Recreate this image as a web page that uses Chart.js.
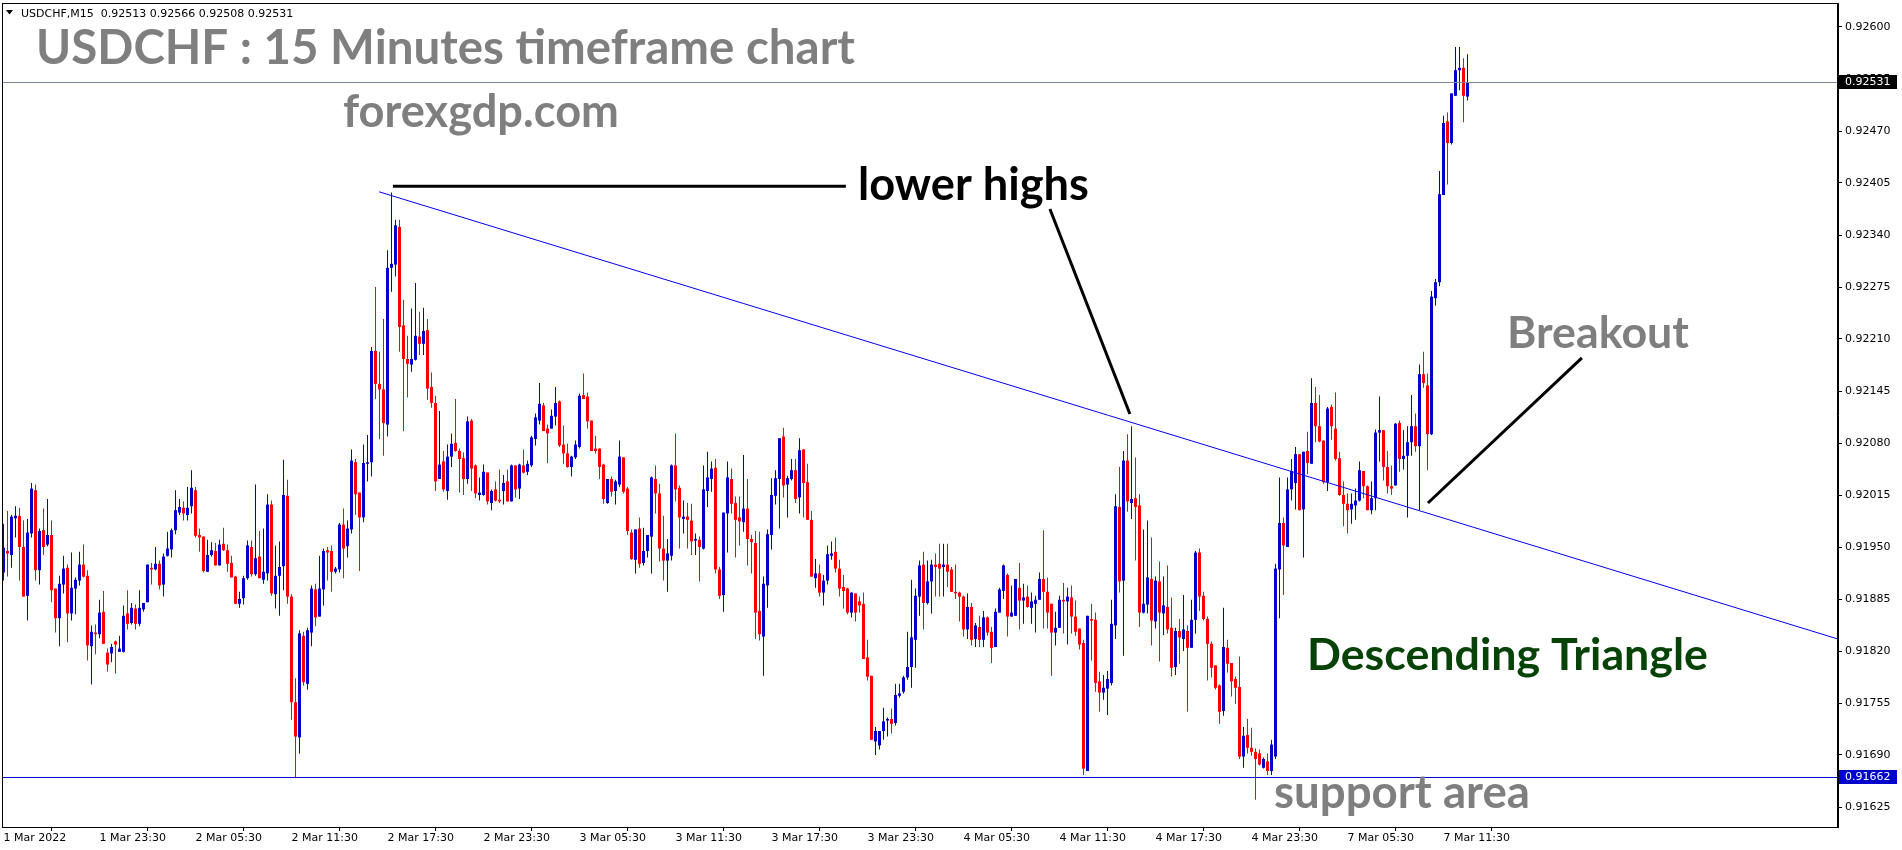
<!DOCTYPE html>
<html>
<head>
<meta charset="utf-8">
<script src="https://cdn.jsdelivr.net/npm/chart.js@4.4.1/dist/chart.umd.min.js"></script>
<style>
html,body{margin:0;padding:0;background:#fff;overflow:hidden}
#wrap{width:1902px;height:850px;position:relative}
canvas{display:block}
</style>
</head>
<body>
<div id="wrap"><canvas id="c" width="1902" height="850"></canvas></div>
<script>
const symbol = 'USDCHF';
const timeframe = 'M15';

const opens = [
0.91918,0.91945,0.91940,0.91986,0.91989,0.91950,0.91889,0.91967,0.92021,0.91921,
0.91971,0.91953,0.91965,0.91898,0.91861,0.91903,0.91924,0.91867,0.91898,0.91908,
0.91928,0.91914,0.91826,0.91843,0.91841,0.91869,0.91818,0.91817,0.91832,0.91819,
0.91819,0.91867,0.91855,0.91873,0.91854,0.91872,0.91881,0.91924,0.91922,0.91929,
0.91903,0.91939,0.91947,0.91971,0.91993,0.91999,0.91990,0.92001,0.92021,0.91965,
0.91963,0.91919,0.91940,0.91945,0.91927,0.91954,0.91946,0.91930,0.91913,0.91879,
0.91886,0.91911,0.91950,0.91916,0.91938,0.91909,0.91917,0.92003,0.91891,0.91914,
0.91926,0.92014,0.91888,0.91756,0.91712,0.91839,0.91779,0.91843,0.91897,0.91863,
0.91897,0.91946,0.91945,0.91919,0.91922,0.91978,0.91951,0.91972,0.92056,0.92018,
0.91987,0.92054,0.92056,0.92195,0.92154,0.92147,0.92103,0.92299,0.92303,0.92350,
0.92227,0.92185,0.92178,0.92184,0.92213,0.92204,0.92221,0.92150,0.92130,0.92035,
0.92057,0.92020,0.92063,0.92080,0.92070,0.92061,0.92035,0.92108,0.92052,0.92015,
0.92015,0.92043,0.92005,0.92022,0.92009,0.92020,0.92032,0.92007,0.92052,0.92023,
0.92052,0.92044,0.92052,0.92085,0.92108,0.92127,0.92098,0.92098,0.92113,0.92132,
0.92078,0.92067,0.92050,0.92062,0.92075,0.92140,0.92138,0.92108,0.92073,0.92073,
0.92053,0.92005,0.92035,0.92020,0.92028,0.92062,0.92023,0.91968,0.91934,0.91973,
0.91930,0.91945,0.91963,0.92035,0.92017,0.91948,0.91933,0.91939,0.92052,0.92024,
0.91985,0.91988,0.91983,0.91958,0.91959,0.91948,0.92020,0.92035,0.92049,0.91922,
0.91890,0.91992,0.92035,0.92005,0.91987,0.91981,0.91998,0.91960,0.91955,0.91870,
0.91838,0.91902,0.91965,0.92014,0.92035,0.92088,0.92028,0.92035,0.92046,0.92012,
0.92072,0.92031,0.91984,0.91911,0.91917,0.91893,0.91908,0.91939,0.91944,0.91923,
0.91900,0.91898,0.91868,0.91892,0.91882,0.91879,0.91812,0.91789,0.91707,0.91702,
0.91720,0.91733,0.91735,0.91730,0.91764,0.91769,0.91787,0.91800,0.91834,0.91888,
0.91928,0.91880,0.91907,0.91928,0.91929,0.91925,0.91928,0.91922,0.91894,0.91893,
0.91888,0.91847,0.91875,0.91835,0.91850,0.91834,0.91862,0.91844,0.91825,0.91868,
0.91895,0.91915,0.91863,0.91864,0.91899,0.91883,0.91888,0.91874,0.91879,0.91884,
0.91910,0.91894,0.91879,0.91843,0.91849,0.91884,0.91882,0.91887,0.91863,0.91848,
0.91830,0.91670,0.91860,0.91859,0.91782,0.91768,0.91773,0.91780,0.91852,0.92000,
0.91908,0.92058,0.92005,0.92011,0.92002,0.91868,0.91878,0.91910,0.91857,0.91907,
0.91867,0.91875,0.91849,0.91800,0.91845,0.91835,0.91845,0.91824,0.91859,0.91943,
0.91889,0.91860,0.91829,0.91802,0.91777,0.91745,0.91824,0.91805,0.91785,0.91775,
0.91688,0.91715,0.91699,0.91694,0.91692,0.91674,0.91682,0.91670,0.91688,0.91922,
0.91980,0.91950,0.92022,0.92030,0.92066,0.91997,0.92070,0.92054,0.92130,0.92101,
0.92083,0.92031,0.92125,0.92098,0.92061,0.92015,0.92004,0.91997,0.92002,0.92008,
0.92045,0.92026,0.91996,0.92011,0.92093,0.92096,0.92050,0.92026,0.92027,0.92105,
0.92060,0.92064,0.92081,0.92101,0.92076,0.92166,0.92152,0.92091,0.92261,0.92281,
0.92390,0.92482,0.92455,0.92514,0.92546,0.92549,0.92513
];

const highs = [
0.91979,0.91995,0.91990,0.92001,0.91999,0.91983,0.91985,0.92030,0.92028,0.91973,
0.91998,0.92010,0.91983,0.91898,0.91914,0.91939,0.91928,0.91943,0.91912,0.91944,
0.91953,0.91921,0.91852,0.91853,0.91884,0.91895,0.91823,0.91829,0.91833,0.91839,
0.91877,0.91896,0.91880,0.91878,0.91896,0.91880,0.91928,0.91930,0.91950,0.91933,
0.91942,0.91969,0.91973,0.92021,0.92010,0.92007,0.92025,0.92046,0.92025,0.91973,
0.91963,0.91959,0.91956,0.91955,0.91959,0.91974,0.91953,0.91939,0.91914,0.91894,
0.91914,0.91958,0.91958,0.92028,0.91970,0.91973,0.92016,0.92008,0.91952,0.91957,
0.92059,0.92034,0.91891,0.91786,0.91846,0.91844,0.91849,0.91902,0.91904,0.91939,
0.91948,0.91950,0.91952,0.91925,0.91980,0.91998,0.91983,0.92072,0.92060,0.92018,
0.92078,0.92090,0.92200,0.92275,0.92194,0.92235,0.92321,0.92393,0.92359,0.92359,
0.92259,0.92214,0.92248,0.92280,0.92244,0.92249,0.92235,0.92168,0.92139,0.92120,
0.92070,0.92078,0.92092,0.92135,0.92073,0.92068,0.92113,0.92110,0.92053,0.92037,
0.92053,0.92043,0.92022,0.92032,0.92047,0.92040,0.92047,0.92053,0.92052,0.92054,
0.92072,0.92058,0.92089,0.92117,0.92155,0.92130,0.92103,0.92122,0.92150,0.92133,
0.92102,0.92079,0.92064,0.92083,0.92142,0.92167,0.92143,0.92108,0.92089,0.92073,
0.92054,0.92035,0.92038,0.92034,0.92083,0.92062,0.92025,0.91972,0.91972,0.91987,
0.91974,0.91965,0.92038,0.92052,0.92029,0.91989,0.91960,0.92053,0.92092,0.92027,
0.92008,0.92005,0.92004,0.91967,0.91963,0.92052,0.92069,0.92057,0.92060,0.91925,
0.91993,0.92057,0.92048,0.92013,0.92013,0.92065,0.92035,0.91965,0.91970,0.91969,
0.91913,0.91972,0.92036,0.92046,0.92086,0.92099,0.92039,0.92060,0.92060,0.92086,
0.92072,0.92054,0.91995,0.91935,0.91928,0.91915,0.91952,0.91957,0.91962,0.91934,
0.91915,0.91899,0.91893,0.91892,0.91888,0.91893,0.91834,0.91789,0.91725,0.91720,
0.91749,0.91737,0.91748,0.91779,0.91779,0.91789,0.91844,0.91909,0.91898,0.91933,
0.91944,0.91933,0.91934,0.91942,0.91954,0.91954,0.91954,0.91925,0.91928,0.91894,
0.91889,0.91892,0.91880,0.91855,0.91864,0.91870,0.91863,0.91850,0.91873,0.91899,
0.91928,0.91917,0.91902,0.91910,0.91930,0.91904,0.91902,0.91893,0.91889,0.91918,
0.91971,0.91912,0.91879,0.91869,0.91889,0.91905,0.91899,0.91902,0.91883,0.91848,
0.91834,0.91864,0.91879,0.91868,0.91794,0.91790,0.91795,0.91884,0.92016,0.92050,
0.92070,0.92091,0.92101,0.92062,0.92016,0.91972,0.91983,0.91962,0.91913,0.91932,
0.91913,0.91927,0.91887,0.91849,0.91860,0.91890,0.91852,0.91884,0.91945,0.91948,
0.91894,0.91863,0.91832,0.91802,0.91778,0.91874,0.91834,0.91805,0.91788,0.91813,
0.91725,0.91735,0.91724,0.91698,0.91697,0.91687,0.91692,0.91709,0.91929,0.92037,
0.91987,0.92037,0.92060,0.92075,0.92066,0.92069,0.92094,0.92161,0.92150,0.92140,
0.92083,0.92125,0.92128,0.92143,0.92069,0.92032,0.92017,0.92017,0.92023,0.92057,
0.92045,0.92027,0.92032,0.92097,0.92138,0.92096,0.92070,0.92052,0.92105,0.92108,
0.92096,0.92101,0.92140,0.92117,0.92178,0.92194,0.92167,0.92270,0.92285,0.92420,
0.92489,0.92493,0.92517,0.92575,0.92575,0.92561,0.92566
];

const lows = [
0.91908,0.91913,0.91924,0.91962,0.91908,0.91888,0.91858,0.91962,0.91908,0.91903,
0.91940,0.91951,0.91881,0.91843,0.91826,0.91892,0.91831,0.91858,0.91866,0.91902,
0.91912,0.91808,0.91778,0.91816,0.91836,0.91829,0.91794,0.91806,0.91792,0.91819,
0.91818,0.91847,0.91853,0.91847,0.91851,0.91869,0.91881,0.91903,0.91921,0.91897,
0.91888,0.91938,0.91937,0.91966,0.91990,0.91983,0.91983,0.91992,0.91962,0.91944,
0.91918,0.91919,0.91938,0.91927,0.91927,0.91945,0.91919,0.91912,0.91879,0.91874,
0.91878,0.91909,0.91913,0.91914,0.91911,0.91904,0.91908,0.91889,0.91873,0.91864,
0.91896,0.91879,0.91734,0.91661,0.91692,0.91777,0.91772,0.91826,0.91851,0.91863,
0.91877,0.91908,0.91894,0.91917,0.91918,0.91911,0.91937,0.91967,0.91990,0.91920,
0.91981,0.92032,0.92038,0.92135,0.92085,0.92064,0.92088,0.92269,0.92288,0.92194,
0.92095,0.92137,0.92169,0.92183,0.92190,0.92190,0.92134,0.92124,0.92020,0.92035,
0.92019,0.92009,0.92050,0.92069,0.92018,0.92015,0.92029,0.92020,0.92011,0.92008,
0.92014,0.92003,0.91996,0.92007,0.92005,0.92003,0.92007,0.92007,0.92012,0.92010,
0.92042,0.92040,0.92050,0.92077,0.92103,0.92095,0.92055,0.92098,0.92102,0.92075,
0.92054,0.92049,0.92038,0.92060,0.92073,0.92135,0.92098,0.92070,0.92067,0.92035,
0.92004,0.92004,0.92013,0.92003,0.92025,0.92017,0.91965,0.91934,0.91917,0.91924,
0.91927,0.91937,0.91917,0.91992,0.91932,0.91908,0.91894,0.91933,0.92007,0.91948,
0.91967,0.91948,0.91940,0.91940,0.91907,0.91947,0.92000,0.92019,0.91917,0.91885,
0.91869,0.91943,0.91992,0.91937,0.91952,0.91969,0.91927,0.91917,0.91835,0.91833,
0.91789,0.91874,0.91947,0.92003,0.91973,0.92012,0.91987,0.92033,0.92005,0.91992,
0.91987,0.91984,0.91913,0.91899,0.91888,0.91877,0.91903,0.91934,0.91918,0.91888,
0.91873,0.91866,0.91862,0.91857,0.91868,0.91810,0.91783,0.91709,0.91690,0.91697,
0.91709,0.91713,0.91717,0.91727,0.91762,0.91767,0.91784,0.91774,0.91799,0.91864,
0.91847,0.91878,0.91867,0.91888,0.91888,0.91888,0.91900,0.91894,0.91885,0.91857,
0.91838,0.91835,0.91827,0.91825,0.91825,0.91825,0.91839,0.91805,0.91825,0.91868,
0.91885,0.91838,0.91863,0.91864,0.91847,0.91854,0.91874,0.91854,0.91843,0.91884,
0.91848,0.91848,0.91789,0.91827,0.91849,0.91842,0.91828,0.91842,0.91839,0.91822,
0.91665,0.91670,0.91808,0.91769,0.91744,0.91759,0.91740,0.91777,0.91835,0.91893,
0.91814,0.91994,0.91985,0.91933,0.91850,0.91867,0.91867,0.91827,0.91848,0.91807,
0.91840,0.91842,0.91788,0.91790,0.91804,0.91820,0.91744,0.91824,0.91842,0.91870,
0.91858,0.91783,0.91787,0.91772,0.91729,0.91739,0.91793,0.91763,0.91754,0.91685,
0.91674,0.91692,0.91689,0.91634,0.91677,0.91673,0.91665,0.91665,0.91685,0.91861,
0.91890,0.91950,0.92008,0.91997,0.91996,0.91937,0.92041,0.92054,0.92081,0.92081,
0.92029,0.92020,0.92084,0.92058,0.92014,0.91976,0.91967,0.91979,0.91984,0.92007,
0.92011,0.91996,0.91991,0.91996,0.92057,0.92033,0.92017,0.92015,0.92027,0.92044,
0.92047,0.91987,0.92064,0.92069,0.91996,0.92149,0.92046,0.92090,0.92252,0.92276,
0.92390,0.92403,0.92453,0.92514,0.92521,0.92481,0.92508
];

const closes = [
0.91949,0.91942,0.91988,0.91989,0.91950,0.91888,0.91968,0.92023,0.91921,0.91970,
0.91950,0.91965,0.91896,0.91861,0.91904,0.91923,0.91867,0.91899,0.91909,0.91928,
0.91913,0.91827,0.91844,0.91841,0.91868,0.91829,0.91803,0.91825,0.91828,0.91823,
0.91864,0.91854,0.91874,0.91854,0.91874,0.91880,0.91928,0.91922,0.91929,0.91902,
0.91938,0.91948,0.91971,0.91996,0.92000,0.91992,0.91999,0.92024,0.91964,0.91962,
0.91920,0.91940,0.91946,0.91927,0.91953,0.91946,0.91929,0.91912,0.91879,0.91885,
0.91911,0.91952,0.91916,0.91936,0.91911,0.91919,0.92003,0.91892,0.91914,0.91925,
0.92015,0.91888,0.91756,0.91713,0.91842,0.91781,0.91846,0.91898,0.91862,0.91898,
0.91945,0.91943,0.91919,0.91923,0.91978,0.91948,0.91973,0.92058,0.92016,0.91987,
0.92055,0.92056,0.92195,0.92154,0.92147,0.92105,0.92299,0.92304,0.92352,0.92225,
0.92185,0.92179,0.92185,0.92214,0.92204,0.92220,0.92148,0.92130,0.92032,0.92053,
0.92022,0.92063,0.92079,0.92070,0.92060,0.92035,0.92107,0.92048,0.92017,0.92018,
0.92044,0.92007,0.92020,0.92008,0.92007,0.92030,0.92007,0.92052,0.92022,0.92053,
0.92043,0.92054,0.92087,0.92112,0.92129,0.92095,0.92092,0.92114,0.92130,0.92077,
0.92067,0.92050,0.92063,0.92078,0.92139,0.92135,0.92107,0.92070,0.92070,0.92050,
0.92010,0.92035,0.92019,0.92032,0.92063,0.92019,0.91970,0.91935,0.91972,0.91929,
0.91945,0.91965,0.92037,0.92017,0.91948,0.91933,0.91942,0.92052,0.92022,0.91987,
0.91988,0.91984,0.91957,0.91960,0.91950,0.92022,0.92037,0.92048,0.91922,0.91889,
0.91993,0.92037,0.92004,0.91984,0.91982,0.91998,0.91960,0.91956,0.91868,0.91841,
0.91904,0.91966,0.92015,0.92036,0.92086,0.92027,0.92036,0.92046,0.92010,0.92071,
0.92030,0.91984,0.91913,0.91917,0.91893,0.91908,0.91941,0.91942,0.91923,0.91898,
0.91895,0.91868,0.91893,0.91868,0.91877,0.91810,0.91788,0.91709,0.91720,0.91720,
0.91732,0.91735,0.91729,0.91765,0.91767,0.91787,0.91800,0.91837,0.91889,0.91927,
0.91880,0.91907,0.91928,0.91925,0.91923,0.91928,0.91919,0.91894,0.91892,0.91888,
0.91847,0.91875,0.91834,0.91852,0.91834,0.91862,0.91843,0.91824,0.91869,0.91897,
0.91927,0.91863,0.91868,0.91910,0.91883,0.91887,0.91875,0.91882,0.91884,0.91910,
0.91894,0.91868,0.91843,0.91849,0.91884,0.91882,0.91888,0.91863,0.91844,0.91828,
0.91673,0.91864,0.91858,0.91780,0.91768,0.91774,0.91785,0.91854,0.92001,0.91907,
0.92058,0.92007,0.92010,0.92000,0.91868,0.91879,0.91912,0.91858,0.91908,0.91868,
0.91877,0.91847,0.91799,0.91845,0.91837,0.91847,0.91824,0.91859,0.91943,0.91888,
0.91860,0.91829,0.91799,0.91774,0.91744,0.91825,0.91804,0.91782,0.91774,0.91688,
0.91714,0.91699,0.91694,0.91685,0.91678,0.91685,0.91670,0.91703,0.91923,0.91980,
0.91952,0.92022,0.92045,0.92066,0.91996,0.92069,0.92055,0.92130,0.92101,0.92082,
0.92031,0.92123,0.92101,0.92060,0.92015,0.92004,0.91996,0.92004,0.92008,0.92046,
0.92026,0.91996,0.92011,0.92093,0.92096,0.92050,0.92026,0.92023,0.92104,0.92060,
0.92064,0.92081,0.92101,0.92076,0.92166,0.92155,0.92091,0.92263,0.92281,0.92391,
0.92480,0.92455,0.92517,0.92546,0.92549,0.92514,0.92531
];

// x axis: bar index of each labelled time and its label
const xTickBars = [0,24,48,72,96,120,144,168,192,216,240,264,288,312,336,360];
const xTickLabels = ['1 Mar 2022','1 Mar 23:30','2 Mar 05:30','2 Mar 11:30','2 Mar 17:30','2 Mar 23:30',
  '3 Mar 05:30','3 Mar 11:30','3 Mar 17:30','3 Mar 23:30','4 Mar 05:30','4 Mar 11:30',
  '4 Mar 17:30','4 Mar 23:30','7 Mar 05:30','7 Mar 11:30'];
// y axis price ticks
const yTickValues = [0.92600,0.92535,0.92470,0.92405,0.92340,0.92275,0.92210,0.92145,0.92080,
  0.92015,0.91950,0.91885,0.91820,0.91755,0.91690,0.91625];

const supportLevel = 0.91662;
// descending trendline anchors (bar index, price)
const trendBars = [93.9, 458.6];
const trendPrices = [0.92394, 0.91835];
// annotation pointer segments (bar index, price)
const pointerBars = [[97.35, 210.6], [261.6, 281.6], [394.6, 356.1]];
const pointerPrices = [[0.92401, 0.92401], [0.923725, 0.921163], [0.921863, 0.92005]];

// view window
const xMin = -0.375, xMax = 458.625, yMin = 0.91600, yMax = 0.92630;

const BULL = '#0000CD', BEAR = '#FF0000';
const idx = closes.map((_, i) => i);
const colors = idx.map(i => closes[i] >= opens[i] ? BULL : BEAR);
const last = closes.length - 1;

function fitSize(ctx, text, weight, family, target) {
  ctx.font = weight + ' 100px ' + family;
  return 100 * target / ctx.measureText(text).width;
}

const labels = [
  {text: symbol + ' : 15 Minutes timeframe chart', x: 36, base: 64, w: 819, color: '#7F7F7F', weight: 'bold'},
  {text: 'forexgdp.com', x: 343, base: 127, w: 276, color: '#7F7F7F', weight: 'bold'},
  {text: 'lower highs', x: 858, base: 200, w: 231, color: '#000000', weight: 'bold'},
  {text: 'Breakout', x: 1507, base: 348, w: 182, color: '#7F7F7F', weight: 'bold'},
  {text: 'Descending Triangle', x: 1307, base: 670, w: 401, color: '#074207', weight: 'bold'},
  {text: 'support area', x: 1274, base: 808, w: 256, color: '#7F7F7F', weight: 'bold'}
];
const TEXT_FONT = 'Lato, "Open Sans", sans-serif';

const overlay = {
  id: 'overlay',
  afterDatasetsDraw(chart) {
    const {ctx, chartArea: a, scales: {x, y}} = chart;
    ctx.save();
    ctx.beginPath();
    ctx.rect(a.left, a.top, a.right - a.left, a.bottom - a.top);
    ctx.clip();
    // support line
    const ys = Math.round(y.getPixelForValue(supportLevel)) + 0.5;
    ctx.strokeStyle = '#0000CD'; ctx.lineWidth = 1;
    ctx.beginPath(); ctx.moveTo(a.left, ys); ctx.lineTo(a.right, ys); ctx.stroke();
    // current price line
    const yc = Math.round(y.getPixelForValue(closes[last])) + 0.5;
    ctx.strokeStyle = '#7A8899';
    ctx.beginPath(); ctx.moveTo(a.left, yc); ctx.lineTo(a.right, yc); ctx.stroke();
    // pointer lines
    ctx.strokeStyle = '#000'; ctx.lineWidth = 3; ctx.lineCap = 'butt';
    pointerBars.forEach((b, k) => {
      ctx.beginPath();
      ctx.moveTo(x.getPixelForValue(b[0]), y.getPixelForValue(pointerPrices[k][0]));
      ctx.lineTo(x.getPixelForValue(b[1]), y.getPixelForValue(pointerPrices[k][1]));
      ctx.stroke();
    });
    ctx.restore();

    // frame
    ctx.save();
    ctx.strokeStyle = '#000'; ctx.lineWidth = 1;
    ctx.strokeRect(a.left + 0.5, a.top + 0.5, a.right - a.left - 1, a.bottom - a.top);
    ctx.restore();

    // annotation texts
    ctx.save();
    ctx.textBaseline = 'alphabetic'; ctx.textAlign = 'left';
    labels.forEach(l => {
      const s = fitSize(ctx, l.text, l.weight, TEXT_FONT, l.w);
      ctx.font = l.weight + ' ' + s.toFixed(2) + 'px ' + TEXT_FONT;
      ctx.fillStyle = l.color;
      ctx.fillText(l.text, l.x, l.base);
    });
    ctx.restore();

    // header
    ctx.save();
    ctx.fillStyle = '#000';
    ctx.beginPath(); ctx.moveTo(6, 10); ctx.lineTo(13, 10); ctx.lineTo(9.5, 14.5); ctx.closePath(); ctx.fill();
    ctx.font = '11px "DejaVu Sans"'; ctx.textBaseline = 'alphabetic';
    const hdr = symbol + ',' + timeframe + '  ' + [opens[last], highs[last], lows[last], closes[last]].map(v => v.toFixed(5)).join(' ');
    ctx.fillText(hdr, 21, 17);
    ctx.restore();

    // price boxes on axis
    const box = (val, bg) => {
      const py = Math.round(y.getPixelForValue(val));
      ctx.fillStyle = bg;
      ctx.fillRect(a.right + 1, py - 7, 58, 14);
      ctx.fillStyle = '#fff';
      ctx.font = '11px "DejaVu Sans"';
      ctx.textBaseline = 'middle';
      ctx.fillText(val.toFixed(5), a.right + 7, py + 0.5);
    };
    ctx.save();
    box(closes[last], '#000');
    box(supportLevel, '#0000CD');
    ctx.restore();
  }
};

Chart.defaults.font.family = '"DejaVu Sans"';
Chart.defaults.font.size = 11;
Chart.defaults.color = '#000';

new Chart(document.getElementById('c'), {
  type: 'bar',
  data: {
    datasets: [
      {
        label: 'wick',
        data: idx.map(i => ({x: i, y: [lows[i], highs[i]]})),
        backgroundColor: colors,
        barThickness: 1,
        grouped: false,
        inflateAmount: 0,
        borderWidth: 0,
        order: 2
      },
      {
        label: 'body',
        data: idx.map(i => ({x: i, y: [opens[i], closes[i]]})),
        backgroundColor: colors,
        barThickness: 3,
        grouped: false,
        inflateAmount: 0,
        borderWidth: 0,
        minBarLength: 1,
        order: 1
      },
      {
        type: 'line',
        label: 'trend',
        data: trendBars.map((b, k) => ({x: b, y: trendPrices[k]})),
        borderColor: '#0000FF',
        borderWidth: 1,
        pointRadius: 0,
        fill: false,
        tension: 0,
        order: 0
      }
    ]
  },
  options: {
    responsive: false,
    animation: false,
    devicePixelRatio: 1,
    layout: {padding: {left: 2, top: 3, right: 0, bottom: 0}},
    plugins: {legend: {display: false}, tooltip: {enabled: false}, title: {display: false}},
    scales: {
      x: {
        type: 'linear',
        min: xMin, max: xMax,
        offset: false,
        afterBuildTicks: s => { s.ticks = xTickBars.map(v => ({value: v})); },
        afterFit: s => { s.height = 23; s.paddingLeft = 0; s.paddingRight = 0; },
        ticks: {
          autoSkip: false, maxRotation: 0, minRotation: 0, align: 'start', padding: 1,
          color: '#000', font: {size: 11, family: '"DejaVu Sans"'},
          callback: v => xTickLabels[xTickBars.indexOf(v)]
        },
        grid: {drawOnChartArea: false, drawTicks: true, tickLength: 4, color: '#000'},
        border: {display: true, color: '#000'}
      },
      y: {
        type: 'linear',
        position: 'right',
        min: yMin, max: yMax,
        afterBuildTicks: s => { s.ticks = yTickValues.map(v => ({value: v})); },
        afterFit: s => { s.width = 64; s.paddingTop = 0; s.paddingBottom = 0; },
        ticks: {
          padding: 3, color: '#000', font: {size: 11, family: '"DejaVu Sans"'},
          callback: v => Number(v).toFixed(5)
        },
        grid: {drawOnChartArea: false, drawTicks: true, tickLength: 4, color: '#000'},
        border: {display: true, color: '#000'}
      }
    }
  },
  plugins: [overlay]
});
</script>
</body>
</html>
